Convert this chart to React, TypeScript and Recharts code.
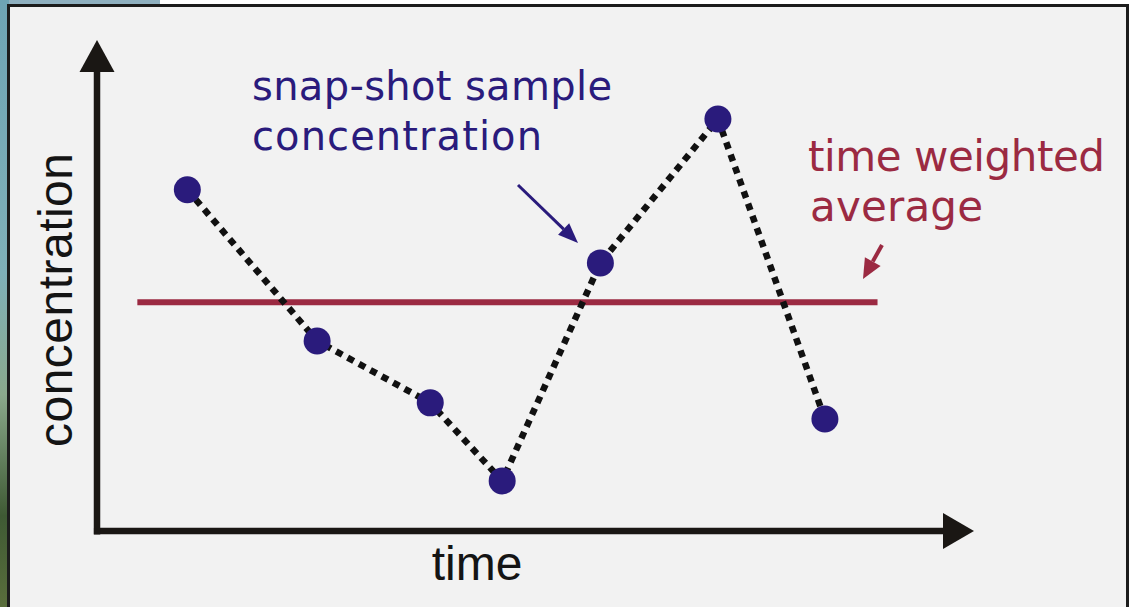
import React from 'react';
import { ComposedChart, Line, XAxis, YAxis, ReferenceLine, ReferenceDot } from 'recharts';

// snap-shot samples (time and concentration on a 0..100 scale)
const sampleTimes = [10.3, 25.1, 38.0, 46.2, 57.4, 70.8, 83.0];
const sampleConcentrations = [69.5, 38.7, 26.1, 10.2, 54.6, 83.9, 22.8];

// time weighted average line
const averageValue = 46.6;
const averageSpan = [4.6, 89.0];

const W = 1131;
const H = 607;
const NAVY = '#2a1b7c';
const WINE = '#9b2a42';
const INK = '#1a1714';

const samples = sampleTimes.map((t, i) => ({ time: t, conc: sampleConcentrations[i] }));

// arrow head polygon from a start point to the tip
const headPoints = (x1: number, y1: number, x2: number, y2: number, len: number, half: number) => {
  const dx = x2 - x1;
  const dy = y2 - y1;
  const d = Math.hypot(dx, dy);
  const ux = dx / d;
  const uy = dy / d;
  const bx = x2 - ux * len;
  const by = y2 - uy * len;
  return {
    base: [bx, by],
    points: `${x2},${y2} ${bx - uy * half},${by + ux * half} ${bx + uy * half},${by - ux * half}`,
  };
};

const XHead = (p: any) => (
  <polygon points={`${p.cx},${p.cy} ${p.cx - 31},${p.cy - 18} ${p.cx - 31},${p.cy + 18}`} fill={INK} />
);
const YHead = (p: any) => (
  <polygon points={`${p.cx},${p.cy} ${p.cx - 17.5},${p.cy + 32} ${p.cx + 17.5},${p.cy + 32}`} fill={INK} />
);

const SampleDot = (p: any) => <circle cx={p.cx} cy={p.cy} r={13.5} fill={NAVY} />;

const App: React.FC = () => {
  const navy = headPoints(518, 185, 578, 243, 20, 8);
  const wine = headPoints(882, 245, 863, 279, 20, 9);

  return (
    <div style={{ position: 'absolute', left: 0, top: 0, width: W, height: H, background: '#ffffff', overflow: 'hidden' }}>
      <div style={{ position: 'absolute', left: 0, top: 0, width: 160, height: 6, background: '#8fb0bf' }} />
      <div
        style={{
          position: 'absolute', left: 0, top: 0, width: 9, height: H,
          background: 'linear-gradient(#6ea4b4 0%, #7fb0b8 45%, #8aa98c 65%, #3f5a34 85%, #5a6e3c 100%)',
        }}
      />
      <div
        style={{
          position: 'absolute', left: 7, top: 4, width: 1122, height: 606,
          boxSizing: 'border-box', border: '3px solid #1c1c1c', background: '#f2f2f2',
        }}
      />

      <div style={{ position: 'absolute', left: 0, top: 0 }}>
        <ComposedChart width={W} height={H} data={samples} margin={{ top: 40, right: 157, bottom: 76, left: 97 }}>
          <XAxis type="number" dataKey="time" domain={[0, 100]} hide />
          <YAxis type="number" domain={[0, 100]} hide />

          <ReferenceLine
            segment={[{ x: -0.35, y: 0 }, { x: 96.5, y: 0 }]}
            stroke={INK} strokeWidth={6.5} ifOverflow="visible"
          />
          <ReferenceLine
            segment={[{ x: 0, y: -0.7 }, { x: 0, y: 93.5 }]}
            stroke={INK} strokeWidth={6.5} ifOverflow="visible"
          />
          <ReferenceDot x={100} y={0} ifOverflow="visible" shape={XHead} />
          <ReferenceDot x={0} y={100} ifOverflow="visible" shape={YHead} />

          <ReferenceLine
            segment={[{ x: averageSpan[0], y: averageValue }, { x: averageSpan[1], y: averageValue }]}
            stroke={WINE} strokeWidth={6}
          />

          <Line
            dataKey="conc"
            stroke="#111111"
            strokeWidth={6.5}
            strokeDasharray="7 6"
            dot={<SampleDot />}
            activeDot={false}
            isAnimationActive={false}
          />
        </ComposedChart>
      </div>

      <svg width={W} height={H} style={{ position: 'absolute', left: 0, top: 0, pointerEvents: 'none' }}>
        <g fontFamily="DejaVu Sans" fill={NAVY}>
          <text x={252} y={100} fontSize={40} textLength={360} lengthAdjust="spacing">snap-shot sample</text>
          <text x={252} y={150} fontSize={40} textLength={290} lengthAdjust="spacing">concentration</text>
        </g>
        <g fontFamily="DejaVu Sans" fill={WINE}>
          <text x={808} y={171} fontSize={42} textLength={297} lengthAdjust="spacing">time weighted</text>
          <text x={810} y={221} fontSize={42} textLength={173} lengthAdjust="spacing">average</text>
        </g>

        <line x1={518} y1={185} x2={navy.base[0]} y2={navy.base[1]} stroke={NAVY} strokeWidth={3} />
        <polygon points={navy.points} fill={NAVY} />
        <line x1={882} y1={245} x2={wine.base[0]} y2={wine.base[1]} stroke={WINE} strokeWidth={4} />
        <polygon points={wine.points} fill={WINE} />

        <g fontFamily="Liberation Sans" fill="#141414" fontSize={48}>
          <text x={477} y={580} textAnchor="middle">time</text>
          <text x={0} y={0} textAnchor="middle" transform="translate(72 300) rotate(-90)" textLength={294} lengthAdjust="spacing">
            concentration
          </text>
        </g>
      </svg>
    </div>
  );
};

export default App;
